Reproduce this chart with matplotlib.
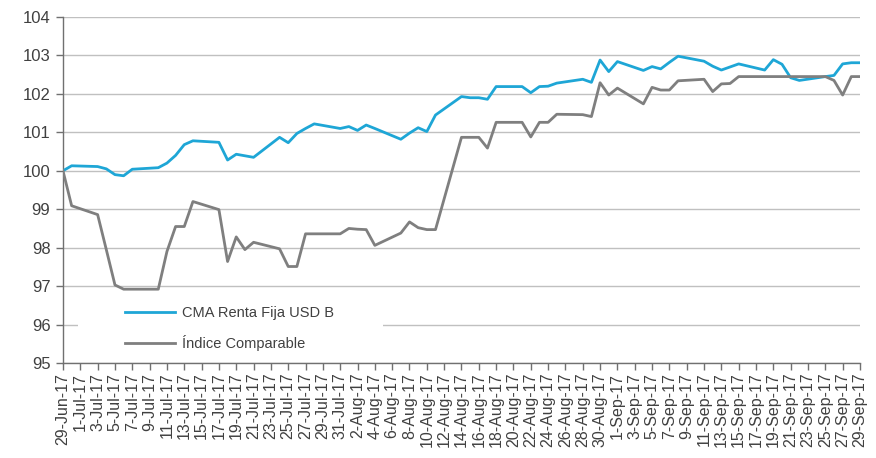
import matplotlib
matplotlib.use("Agg")
import matplotlib.pyplot as plt
import matplotlib.patches as mpatches
import pandas as pd

dates = ["2017-06-29", "2017-06-30", "2017-07-03", "2017-07-04", "2017-07-05", "2017-07-06", "2017-07-07",
         "2017-07-10", "2017-07-11", "2017-07-12", "2017-07-13", "2017-07-14",
         "2017-07-17", "2017-07-18", "2017-07-19", "2017-07-20", "2017-07-21",
         "2017-07-24", "2017-07-25", "2017-07-26", "2017-07-27", "2017-07-28",
         "2017-07-31", "2017-08-01", "2017-08-02", "2017-08-03", "2017-08-04",
         "2017-08-07", "2017-08-08", "2017-08-09", "2017-08-10", "2017-08-11",
         "2017-08-14", "2017-08-15", "2017-08-16", "2017-08-17", "2017-08-18",
         "2017-08-21", "2017-08-22", "2017-08-23", "2017-08-24", "2017-08-25",
         "2017-08-28", "2017-08-29", "2017-08-30", "2017-08-31", "2017-09-01",
         "2017-09-04", "2017-09-05", "2017-09-06", "2017-09-07", "2017-09-08",
         "2017-09-11", "2017-09-12", "2017-09-13", "2017-09-14", "2017-09-15",
         "2017-09-18", "2017-09-19", "2017-09-20", "2017-09-21", "2017-09-22",
         "2017-09-25", "2017-09-26", "2017-09-27", "2017-09-28", "2017-09-29"]

cma_renta_fija = [100.00, 100.13, 100.11, 100.05, 99.90, 99.87, 100.04,
                  100.08, 100.20, 100.40, 100.68, 100.78,
                  100.74, 100.28, 100.43, 100.39, 100.35,
                  100.87, 100.73, 100.97, 101.10, 101.22,
                  101.10, 101.15, 101.05, 101.19, 101.10,
                  100.82, 100.98, 101.12, 101.02, 101.45,
                  101.93, 101.90, 101.90, 101.86, 102.19,
                  102.19, 102.03, 102.19, 102.20, 102.28,
                  102.38, 102.30, 102.88, 102.58, 102.84,
                  102.61, 102.71, 102.65, 102.82, 102.98,
                  102.85, 102.72, 102.62, 102.70, 102.78,
                  102.62, 102.89, 102.77, 102.42, 102.35,
                  102.45, 102.48, 102.78, 102.81, 102.81]

indice_comparable = [100.00, 99.09, 98.86, 97.95, 97.03, 96.92, 96.92,
                     96.92, 97.90, 98.55, 98.55, 99.20,
                     98.99, 97.64, 98.28, 97.95, 98.14,
                     97.97, 97.51, 97.51, 98.36, 98.36,
                     98.36, 98.50, 98.48, 98.47, 98.06,
                     98.38, 98.67, 98.52, 98.47, 98.47,
                     100.87, 100.87, 100.87, 100.59, 101.26,
                     101.26, 100.88, 101.26, 101.26, 101.47,
                     101.46, 101.41, 102.29, 101.97, 102.15,
                     101.74, 102.17, 102.10, 102.10, 102.34,
                     102.38, 102.06, 102.26, 102.27, 102.45,
                     102.45, 102.45, 102.45, 102.45, 102.45,
                     102.45, 102.35, 101.97, 102.45, 102.45]

series_labels = ["CMA Renta Fija USD B", "Índice Comparable"]
y_ticks = [95, 96, 97, 98, 99, 100, 101, 102, 103, 104]

plt.rcParams['font.family'] = ['Liberation Sans', 'DejaVu Sans']

x = pd.to_datetime(dates)
fig = plt.figure(figsize=(8.76, 4.58), dpi=100)
ax = fig.add_axes([0.0719, 0.2074, 0.9098, 0.7555])

ax.plot(x, cma_renta_fija, color="#1ea6d6", lw=2.0, label=series_labels[0], solid_joinstyle="round", zorder=3)
ax.plot(x, indice_comparable, color="#7f7f7f", lw=2.0, label=series_labels[1], solid_joinstyle="round", zorder=3)

ax.set_ylim(95, 104)
ax.set_yticks(y_ticks)
ax.set_xlim(x[0], x[-1])
ticks = pd.date_range(x[0], x[-1], freq="2D")
ax.set_xticks(ticks)
ax.set_xticklabels([f"{t.day}-{t.strftime('%b-%y')}" for t in ticks], rotation=90, fontsize=11.5, color="#404040")
for lab in ax.get_yticklabels():
    lab.set_fontsize(12)
    lab.set_color("#404040")

ax.grid(axis="y", color="#c0c0c0", lw=1, zorder=0)
ax.set_axisbelow(True)
for s in ["top", "right"]:
    ax.spines[s].set_visible(False)
for s in ["left", "bottom"]:
    ax.spines[s].set_color("#707070")
    ax.spines[s].set_linewidth(1)
ax.tick_params(axis="both", direction="out", length=5, color="#707070", width=1, pad=2)
ax.tick_params(axis="y", pad=4)

# white legend background block
ax.add_patch(mpatches.Rectangle((0.019, 0.02), 0.383, 0.185, transform=ax.transAxes,
                                facecolor="white", edgecolor="none", zorder=1))

leg = ax.legend(loc="upper left", bbox_to_anchor=(0.078, 0.165), frameon=False, fontsize=10.5,
                handlelength=3.4, handletextpad=0.5, labelspacing=1.05, borderpad=0, borderaxespad=0)
for t in leg.get_texts():
    t.set_color("#404040")

fig.savefig("out.png", dpi=100)
